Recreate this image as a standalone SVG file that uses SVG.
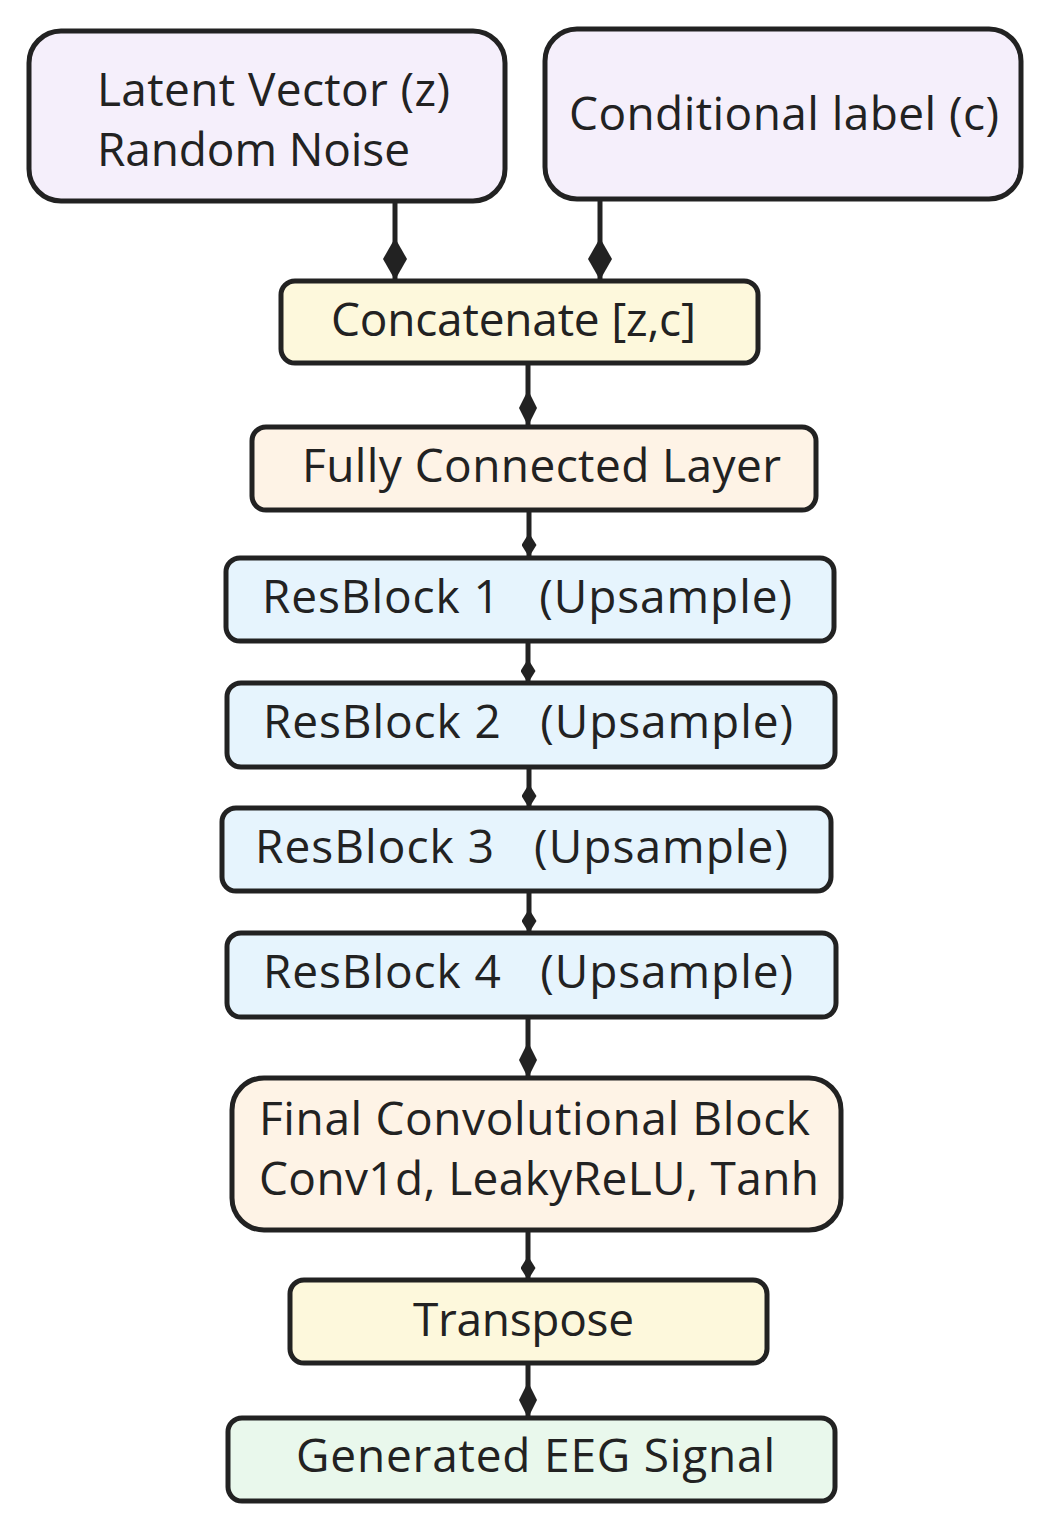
<svg xmlns="http://www.w3.org/2000/svg" width="1051" height="1530" viewBox="0 0 1051 1530">
<defs>
<style>
.n{stroke:#222;stroke-width:5}
.t{font-family:"Open Sans","Noto Sans",sans-serif;font-size:46px;fill:#222;white-space:pre}
.purple{fill:#f5effb}
.yellow{fill:#fdf8dc}
.orange{fill:#fef3e6}
.blue{fill:#e6f4fd}
.green{fill:#e9f8ec}
.e{stroke:#222;stroke-width:5;fill:none}
</style>
<marker id="dbig" viewBox="0 0 42 24" refX="42" refY="12" markerWidth="42" markerHeight="24" markerUnits="userSpaceOnUse" orient="auto"><path d="M0 12 L21 0 L42 12 L21 24 Z" fill="#222"/></marker>
<marker id="dmid" viewBox="0 0 36 18" refX="36" refY="9" markerWidth="36" markerHeight="18" markerUnits="userSpaceOnUse" orient="auto"><path d="M0 9 L18 0 L36 9 L18 18 Z" fill="#222"/></marker>
<marker id="dsm" viewBox="0 0 24 15" refX="24" refY="7.5" markerWidth="24" markerHeight="15" markerUnits="userSpaceOnUse" orient="auto"><path d="M0 7.5 L12 0 L24 7.5 L12 15 Z" fill="#222"/></marker>
</defs>
<rect width="1051" height="1530" fill="#fff"/>
<g id="connectors">
<path class="e" d="M395 199 V280" marker-end="url(#dbig)"/>
<path class="e" d="M600 197 V280" marker-end="url(#dbig)"/>
<path class="e" d="M528 363 V426" marker-end="url(#dmid)"/>
<path class="e" d="M529 508 V557" marker-end="url(#dsm)"/>
<path class="e" d="M528 638 V683" marker-end="url(#dsm)"/>
<path class="e" d="M529 764 V808" marker-end="url(#dsm)"/>
<path class="e" d="M529 888 V933" marker-end="url(#dsm)"/>
<path class="e" d="M528 1014 V1078" marker-end="url(#dmid)"/>
<path class="e" d="M528 1228 V1280" marker-end="url(#dsm)"/>
<path class="e" d="M528 1361 V1418" marker-end="url(#dmid)"/>
</g>
<g id="latent"><rect class="n purple" x="29" y="31" width="476" height="170" rx="32"/>
<text class="t" x="97" y="106" textLength="353">Latent Vector (z)</text><text class="t" x="97" y="166" textLength="313">Random Noise</text></g>
<g id="cond"><rect class="n purple" x="545" y="29" width="476" height="170" rx="32"/>
<text class="t" x="569" y="130" textLength="430">Conditional label (c)</text></g>
<g id="concat"><rect class="n yellow" x="281" y="281" width="477" height="82" rx="14"/>
<text class="t" x="331" y="336" textLength="365">Concatenate [z,c]</text></g>
<g id="fc"><rect class="n orange" x="252" y="427" width="564" height="83" rx="14"/>
<text class="t" x="302" y="482" textLength="479">Fully Connected Layer</text></g>
<g id="rb1"><rect class="n blue" x="226" y="558" width="608" height="83" rx="14"/>
<text class="t" x="262" y="613" textLength="530">ResBlock 1   (Upsample)</text></g>
<g id="rb2"><rect class="n blue" x="227" y="683" width="608" height="84" rx="14"/>
<text class="t" x="263" y="738" textLength="530">ResBlock 2   (Upsample)</text></g>
<g id="rb3"><rect class="n blue" x="222" y="808" width="609" height="83" rx="14"/>
<text class="t" x="255" y="863" textLength="533">ResBlock 3   (Upsample)</text></g>
<g id="rb4"><rect class="n blue" x="227" y="933" width="609" height="84" rx="14"/>
<text class="t" x="263" y="988" textLength="530">ResBlock 4   (Upsample)</text></g>
<g id="final"><rect class="n orange" x="232" y="1078" width="609" height="152" rx="32"/>
<text class="t" x="259" y="1135" textLength="551">Final Convolutional Block</text><text class="t" x="259" y="1195" textLength="560">Conv1d, LeakyReLU, Tanh</text></g>
<g id="transpose"><rect class="n yellow" x="290" y="1280" width="477" height="83" rx="14"/>
<text class="t" x="413" y="1336" textLength="221">Transpose</text></g>
<g id="generated"><rect class="n green" x="228" y="1418" width="607" height="83" rx="14"/>
<text class="t" x="296" y="1472" textLength="479">Generated EEG Signal</text></g>
</svg>
